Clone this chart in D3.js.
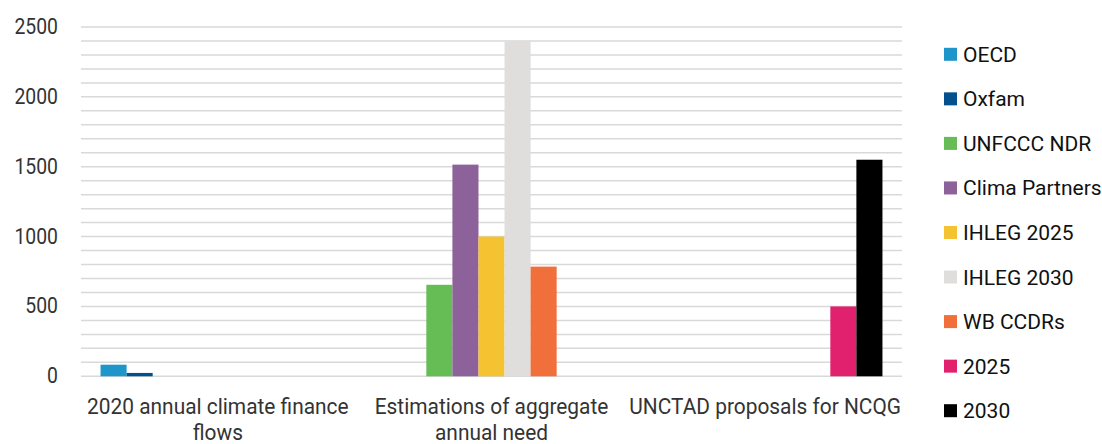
<!DOCTYPE html>
<html>
<head>
<meta charset="utf-8">
<script src="https://cdn.jsdelivr.net/npm/d3@7"></script>
<style>
  body { margin: 0; background: #fff; }
  text { font-family: Roboto, "Noto Sans", sans-serif; }
</style>
</head>
<body>
<div class="chart"></div>
<script>
// categories (label lines) and series
let categories = ['2020 annual climate finance flows', 'Estimations of aggregate annual need', 'UNCTAD proposals for NCQG'];
let categoryLines = [['2020 annual climate finance', 'flows'], ['Estimations of aggregate', 'annual need'], ['UNCTAD proposals for NCQG']];
let seriesNames = ['OECD', 'Oxfam', 'UNFCCC NDR', 'Clima Partners', 'IHLEG 2025', 'IHLEG 2030', 'WB CCDRs', '2025', '2030'];
let seriesColors = ['#1f96c9', '#02508c', '#66bc55', '#8d6199', '#f5c332', '#dfdedc', '#f06f3a', '#e2216e', '#000000'];
// values per series, one per category (null = no bar)
let oecd = [83, null, null];
let oxfam = [24, null, null];
let unfcccNdr = [null, 655, null];
let climaPartners = [null, 1515, null];
let ihleg2025 = [null, 1000, null];
let ihleg2030 = [null, 2400, null];
let wbCcdrs = [null, 785, null];
let y2025 = [null, null, 500];
let y2030 = [null, null, 1550];
let yTicks = [0, 500, 1000, 1500, 2000, 2500];

let seriesValues = [oecd, oxfam, unfcccNdr, climaPartners, ihleg2025, ihleg2030, wbCcdrs, y2025, y2030];

const _width = 1102, _height = 444;
let plot = {left: 81, right: 902, top: 27, bottom: 376.3};

let svg = d3.select('.chart')
    .append('svg')
    .attr('width', _width)
    .attr('height', _height);

let x0 = d3.scaleBand()
    .domain(categories)
    .range([plot.left, plot.right])
    .paddingInner(0)
    .paddingOuter(0);
let x1 = d3.scaleBand()
    .domain(seriesNames)
    .range([0, x0.bandwidth()])
    .paddingInner(0)
    .paddingOuter(0.75);
let y = d3.scaleLinear()
    .domain([0, 2500])
    .range([plot.bottom, plot.top]);

// gridlines every 100
svg.append('g')
    .selectAll('line')
    .data(d3.range(0, 2501, 100))
    .enter().append('line')
    .attr('x1', plot.left)
    .attr('x2', plot.right)
    .attr('y1', d => y(d))
    .attr('y2', d => y(d))
    .attr('stroke', '#d9d9d9')
    .attr('stroke-width', 1.5);

// y axis labels
let yAxis = svg.append('g')
    .call(d3.axisLeft(y).tickValues(yTicks).tickFormat(d3.format('d')).tickSize(0).tickPadding(0));
yAxis.select('.domain').remove();
yAxis.selectAll('.tick')
    .each(function (d) {
        d3.select(this).attr('transform', `translate(${plot.left - 23},${y(d)}) scale(0.88,1)`);
    });
yAxis.selectAll('text')
    .attr('font-size', 22)
    .attr('fill', '#333')
    .attr('font-family', 'Roboto')
    .attr('x', 0);

// bars
let bars = [];
seriesValues.forEach((vals, si) => {
    vals.forEach((v, ci) => {
        if (v != null) bars.push({series: seriesNames[si], cat: categories[ci], value: v, color: seriesColors[si]});
    });
});
svg.append('g')
    .selectAll('rect')
    .data(bars)
    .enter().append('rect')
    .attr('x', d => x0(d.cat) + x1(d.series))
    .attr('width', x1.bandwidth())
    .attr('y', d => y(d.value))
    .attr('height', d => y(0) - y(d.value))
    .attr('fill', d => d.color);

// category labels
let catG = svg.append('g')
    .selectAll('g')
    .data(categories)
    .enter().append('g')
    .attr('transform', d => `translate(${x0(d) + x0.bandwidth() / 2},414) scale(0.95,1)`);
catG.selectAll('text')
    .data((d, i) => categoryLines[i])
    .enter().append('text')
    .attr('y', (d, i) => i * 26)
    .attr('text-anchor', 'middle')
    .attr('font-size', 22)
    .attr('fill', '#333')
    .text(d => d);

// legend
let legend = svg.append('g')
    .selectAll('g')
    .data(seriesNames)
    .enter().append('g')
    .attr('transform', (d, i) => `translate(944,${54.3 + i * 44.55})`);
legend.append('rect')
    .attr('x', 0)
    .attr('y', -6.5)
    .attr('width', 13)
    .attr('height', 13)
    .attr('fill', (d, i) => seriesColors[i]);
legend.append('text')
    .attr('x', 19)
    .attr('y', 7.5)
    .attr('font-size', 21)
    .attr('fill', '#111')
    .text(d => d);
</script>
</body>
</html>
